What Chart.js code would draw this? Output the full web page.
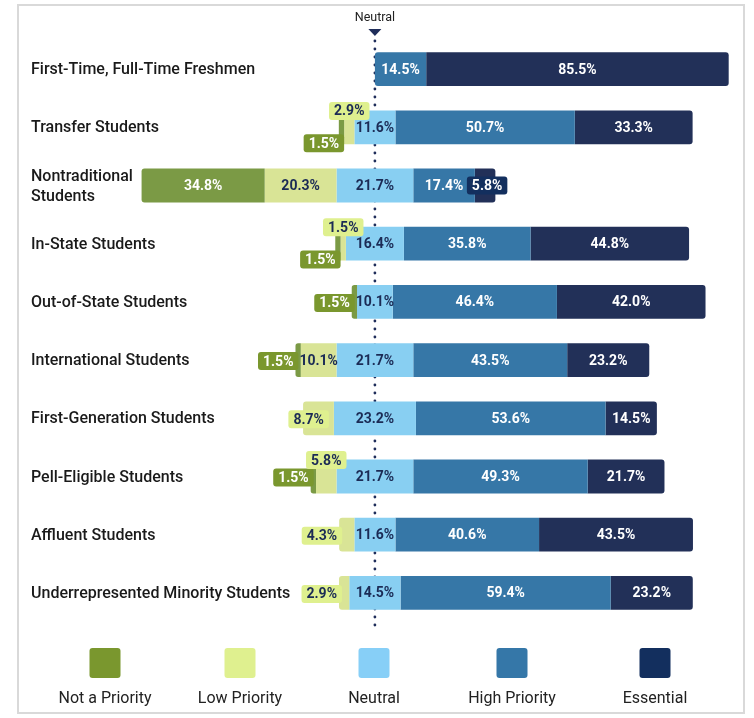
<!DOCTYPE html>
<html>
<head>
<meta charset="utf-8">
<script src="https://cdn.jsdelivr.net/npm/chart.js@4.4.1/dist/chart.umd.min.js"></script>
<style>
html,body{margin:0;padding:0;background:#fff;}
canvas{display:block;}
</style>
</head>
<body>
<canvas id="c" width="754" height="718"></canvas>
<script>
// ---- data ----
const categories = [
  'First-Time, Full-Time Freshmen',
  'Transfer Students',
  ['Nontraditional', 'Students'],
  'In-State Students',
  'Out-of-State Students',
  'International Students',
  'First-Generation Students',
  'Pell-Eligible Students',
  'Affluent Students',
  'Underrepresented Minority Students'
];
const seriesNames = ['Not a Priority', 'Low Priority', 'Neutral', 'High Priority', 'Essential'];
const notAPriority = [0, 1.5, 34.8, 1.5, 1.5, 1.5, 0, 1.5, 0, 0];
const lowPriority  = [0, 2.9, 20.3, 1.5, 0, 10.1, 8.7, 5.8, 4.3, 2.9];
const neutral      = [0, 11.6, 21.7, 16.4, 10.1, 21.7, 23.2, 21.7, 11.6, 14.5];
const highPriority = [14.5, 50.7, 17.4, 35.8, 46.4, 43.5, 53.6, 49.3, 40.6, 59.4];
const essential    = [85.5, 33.3, 5.8, 44.8, 42.0, 23.2, 14.5, 21.7, 43.5, 23.2];
const axisMin = -70;
const axisMax = 101.5;

// ---- styles ----
const barColors    = ['#7b9a45', '#d9e496', '#88cff2', '#3677a7', '#223058'];
const legendColors = ['#7a972e', '#dff08f', '#87cff7', '#3577a8', '#132f5e'];
const textColors   = ['#ffffff', '#1b2b55', '#1b2b55', '#ffffff', '#ffffff'];
// label placement for segments too narrow for their label
const calloutPlace = [
  [null, 'below', null, 'below', 'left', 'left', null, 'left', null, null],
  [null, 'above', null, 'above', null, null, 'overlap', 'above', 'left', 'left'],
  [], [],
  [null, null, 'box', null, null, null, null, null, null, null]
];
const legendCenters = [105, 240, 374, 512, 655];

const seriesValues = [notAPriority, lowPriority, neutral, highPriority, essential];

// diverging ranges built from the values (neutral centred on zero)
function ranges(s) {
  return categories.map((c, i) => {
    const h = neutral[i] / 2;
    const lo = lowPriority[i], np = notAPriority[i], hi = highPriority[i], es = essential[i];
    switch (s) {
      case 0: return [-h - lo - np, -h - lo];
      case 1: return [-h - lo, -h];
      case 2: return [-h, h];
      case 3: return [h, h + hi];
      default: return [h + hi, h + hi + es];
    }
  });
}

function firstLast(i) {
  let first = -1, last = -1;
  for (let s = 0; s < 5; s++) {
    if (seriesValues[s][i] > 0) { if (first < 0) first = s; last = s; }
  }
  return [first, last];
}

const datasets = seriesNames.map((name, s) => ({
  label: name,
  data: ranges(s),
  backgroundColor: barColors[s],
  borderWidth: 0,
  borderSkipped: false,
  grouped: false,
  barPercentage: 0.58,
  categoryPercentage: 1,
  borderRadius: (ctx) => {
    const [f, l] = firstLast(ctx.dataIndex);
    const r = 3;
    const left = ctx.datasetIndex === f ? r : 0;
    const right = ctx.datasetIndex === l ? r : 0;
    return { topLeft: left, bottomLeft: left, topRight: right, bottomRight: right };
  }
}));

function roundRect(ctx, x, y, w, h, r) {
  ctx.beginPath();
  ctx.moveTo(x + r, y);
  ctx.lineTo(x + w - r, y);
  ctx.quadraticCurveTo(x + w, y, x + w, y + r);
  ctx.lineTo(x + w, y + h - r);
  ctx.quadraticCurveTo(x + w, y + h, x + w - r, y + h);
  ctx.lineTo(x + r, y + h);
  ctx.quadraticCurveTo(x, y + h, x, y + h - r);
  ctx.lineTo(x, y + r);
  ctx.quadraticCurveTo(x, y, x + r, y);
  ctx.closePath();
}

const framePlugin = {
  id: 'frame',
  beforeDraw(chart) {
    const ctx = chart.ctx;
    ctx.save();
    ctx.fillStyle = '#fff';
    ctx.fillRect(0, 0, chart.width, chart.height);
    ctx.strokeStyle = '#d9d9d9';
    ctx.lineWidth = 2;
    ctx.strokeRect(18, 5, 726, 708);
    ctx.restore();
  },
  beforeDatasetsDraw(chart) {
    const ctx = chart.ctx;
    const x0 = chart.scales.x.getPixelForValue(0);
    ctx.save();
    // neutral marker
    ctx.fillStyle = '#222';
    ctx.font = '12.5px Roboto';
    ctx.textAlign = 'center';
    ctx.textBaseline = 'middle';
    ctx.fillText('Neutral', x0, 18);
    ctx.fillStyle = '#1f2d5a';
    ctx.beginPath();
    ctx.moveTo(x0 - 6.5, 29);
    ctx.lineTo(x0 + 6.5, 29);
    ctx.lineTo(x0, 36);
    ctx.closePath();
    ctx.fill();
    // dotted line
    for (let y = 41; y <= 628; y += 8) {
      ctx.beginPath();
      ctx.arc(x0, y, 1.4, 0, Math.PI * 2);
      ctx.fill();
    }
    ctx.restore();
    // category labels
    const ys = chart.scales.y;
    ctx.save();
    ctx.font = '500 16px Roboto';
    ctx.fillStyle = '#1a1a1a';
    ctx.textAlign = 'left';
    ctx.textBaseline = 'middle';
    categories.forEach((lab, i) => {
      const yc = ys.getPixelForValue(i);
      const lines = Array.isArray(lab) ? lab : [lab];
      const lh = 20;
      lines.forEach((ln, k) => {
        ctx.fillText(ln, 31, yc + 1 + (k - (lines.length - 1) / 2) * lh);
      });
    });
    ctx.restore();
  },
  afterDatasetsDraw(chart) {
    const ctx = chart.ctx;
    ctx.save();
    ctx.font = 'bold 14px Roboto';
    ctx.textAlign = 'center';
    ctx.textBaseline = 'middle';
    for (let s = 0; s < 5; s++) {
      const meta = chart.getDatasetMeta(s);
      meta.data.forEach((el, i) => {
        const v = seriesValues[s][i];
        if (!v) return;
        const p = el.getProps(['x', 'y', 'base', 'height'], true);
        const left = Math.min(p.x, p.base), right = Math.max(p.x, p.base);
        const top = p.y - p.height / 2, bottom = p.y + p.height / 2;
        const txt = v.toFixed(1) + '%';
        const place = (calloutPlace[s] && calloutPlace[s][i]) || 'in';
        if (place === 'in') {
          ctx.fillStyle = textColors[s];
          ctx.fillText(txt, (left + right) / 2, p.y + 1);
          return;
        }
        const tw = ctx.measureText(txt).width;
        const bw = tw + 10, bh = 18;
        let bx, by;
        if (place === 'above') { bx = (left + right) / 2 - bw / 2; by = top + 0.5 - bh / 2; }
        else if (place === 'below') { bx = right - bw; by = bottom - 1 - bh / 2; }
        else if (place === 'left') { bx = left + 3 - bw; by = p.y + 1 - bh / 2; }
        else if (place === 'overlap') { bx = right - 5 - bw; by = p.y + 1 - bh / 2; }
        else { bx = (left + right) / 2 + 2 - bw / 2; by = p.y - bh / 2; }
        ctx.fillStyle = legendColors[s];
        roundRect(ctx, bx, by, bw, bh, 3);
        ctx.fill();
        ctx.fillStyle = textColors[s];
        ctx.fillText(txt, bx + bw / 2, by + bh / 2 + 1);
      });
    }
    ctx.restore();
  },
  afterDraw(chart) {
    const ctx = chart.ctx;
    ctx.save();
    ctx.textAlign = 'center';
    ctx.textBaseline = 'middle';
    ctx.font = '16px Roboto';
    seriesNames.forEach((name, s) => {
      const cx = legendCenters[s];
      ctx.fillStyle = legendColors[s];
      roundRect(ctx, cx - 15.5, 648, 31, 30, 3);
      ctx.fill();
      ctx.fillStyle = '#222';
      ctx.fillText(name, cx, 699);
    });
    ctx.restore();
  }
};

new Chart(document.getElementById('c'), {
  type: 'bar',
  data: { labels: categories, datasets },
  plugins: [framePlugin],
  options: {
    indexAxis: 'y',
    responsive: false,
    animation: false,
    layout: { padding: { top: 40, bottom: 96, left: 31, right: 20 } },
    plugins: { legend: { display: false }, tooltip: { enabled: false } },
    scales: {
      x: { display: false, min: axisMin, max: axisMax },
      y: {
        grid: { display: false },
        border: { display: false },
        ticks: { display: false },
        afterFit(scale) { scale.width = 96.25; }
      }
    }
  }
});
</script>
</body>
</html>
